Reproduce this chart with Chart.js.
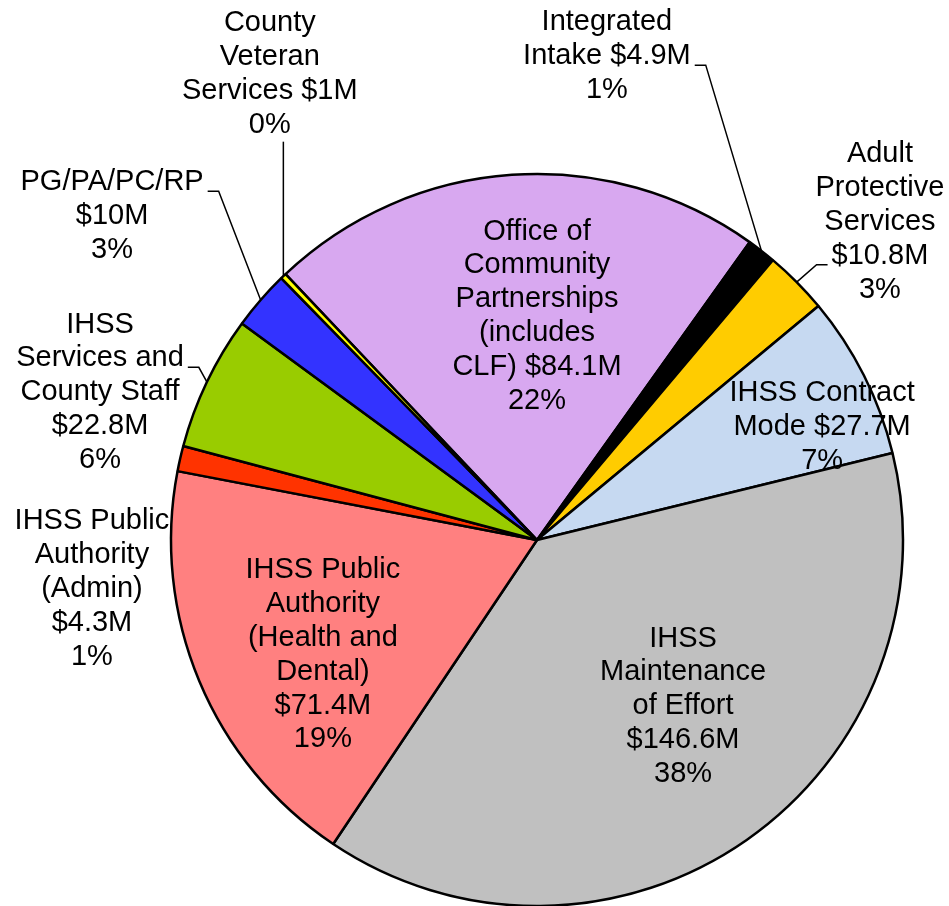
<!DOCTYPE html>
<html>
<head>
<meta charset="utf-8">
<title>Budget pie</title>
<script src="https://cdn.jsdelivr.net/npm/chart.js@4.4.1/dist/chart.umd.min.js"></script>
<style>
  html, body { margin: 0; padding: 0; background: #fff; overflow: hidden; }
  #wrap { width: 949px; height: 906px; position: relative; }
</style>
</head>
<body>
<div id="wrap"><canvas id="stage"></canvas></div>
<script>
// slices, clockwise from the top (amounts in $M)
var categories = [
  'Office of Community Partnerships (includes CLF)',
  'Integrated Intake',
  'Adult Protective Services',
  'IHSS Contract Mode',
  'IHSS Maintenance of Effort',
  'IHSS Public Authority (Health and Dental)',
  'IHSS Public Authority (Admin)',
  'IHSS Services and County Staff',
  'PG/PA/PC/RP',
  'County Veteran Services'
];
var amounts = [84.1, 4.9, 10.8, 27.7, 146.6, 71.4, 4.3, 22.8, 10, 1];
var colors = ['#D8A8F0', '#000000', '#FFCC00', '#C6D9F1', '#C0C0C0',
              '#FF8080', '#FF3300', '#99CC00', '#3333FF', '#FFFF00'];

// where each label sits: offset from the pie centre in radii, wrap width in px,
// and the leader line (side of the label it leaves from, and which text line)
var labelLayout = [
  { fx: 0.0,    fy: -0.612, wrap: 175 },
  { fx: 0.191,  fy: -1.322, wrap: 180, leader: 'right', line: 1 },
  { fx: 0.937,  fy: -0.869, wrap: 140, leader: 'left', line: 3 },
  { fx: 0.779,  fy: -0.309, wrap: 187 },
  { fx: 0.399,  fy: 0.454,  wrap: 175 },
  { fx: -0.585, fy: 0.314,  wrap: 165 },
  { fx: -1.216, fy: 0.134,  wrap: 165 },
  { fx: -1.194, fy: -0.404, wrap: 175, leader: 'right', line: 1 },
  { fx: -1.161, fy: -0.885, wrap: 200, leader: 'right', line: 0 },
  { fx: -0.730, fy: -1.273, wrap: 185, leader: 'bottom' }
];

var FONT = '29px "Liberation Sans", Arial, sans-serif';
var LINE_H = 33.8;

function wrapText(ctx, text, maxW) {
  var words = text.split(' ');
  var lines = [];
  var cur = '';
  words.forEach(function (w) {
    var t = cur ? cur + ' ' + w : w;
    if (cur && ctx.measureText(t).width > maxW) {
      lines.push(cur);
      cur = w;
    } else {
      cur = t;
    }
  });
  if (cur) lines.push(cur);
  return lines;
}

var pieLabels = {
  id: 'pieLabels',
  afterDatasetsDraw: function (chart) {
    var ctx = chart.ctx;
    var meta = chart.getDatasetMeta(0);
    var total = amounts.reduce(function (a, b) { return a + b; }, 0);
    ctx.save();
    ctx.font = FONT;
    ctx.fillStyle = '#000';
    ctx.strokeStyle = '#000';
    ctx.lineWidth = 1.5;
    ctx.textAlign = 'center';
    ctx.textBaseline = 'middle';
    meta.data.forEach(function (arc, i) {
      var lay = labelLayout[i];
      var r = arc.outerRadius;
      var cx = arc.x + lay.fx * r;
      var cy = arc.y + lay.fy * r;
      var lines = wrapText(ctx, categories[i] + ' $' + amounts[i] + 'M', lay.wrap);
      lines.push(Math.round(amounts[i] / total * 100) + '%');
      var top = cy - lines.length * LINE_H / 2;
      lines.forEach(function (s, k) {
        ctx.fillText(s, cx, top + LINE_H * (k + 0.5));
      });

      if (!lay.leader) return;
      var mid = (arc.startAngle + arc.endAngle) / 2;
      var px = arc.x + Math.cos(mid) * r;
      var py = arc.y + Math.sin(mid) * r;
      ctx.beginPath();
      if (lay.leader === 'bottom') {
        ctx.moveTo(px, top + lines.length * LINE_H);
        ctx.lineTo(px, py);
      } else {
        var dir = lay.leader === 'right' ? 1 : -1;
        var w = ctx.measureText(lines[lay.line]).width;
        var ly = top + LINE_H * (lay.line + 0.5) + 9;
        var x0 = cx + dir * (w / 2 + 4);
        ctx.moveTo(x0, ly);
        ctx.lineTo(x0 + dir * 11, ly);
        ctx.lineTo(px, py);
      }
      ctx.stroke();
    });
    ctx.restore();
  }
};

var canvas = document.getElementById('stage');
var chart = new Chart(canvas, {
  type: 'pie',
  data: {
    labels: categories,
    datasets: [{
      data: amounts,
      backgroundColor: colors,
      borderColor: '#000',
      borderWidth: 2.5
    }]
  },
  options: {
    responsive: true,
    maintainAspectRatio: false,
    animation: false,
    rotation: -43.4,
    radius: 366,
    layout: { padding: { left: 125, right: 0, top: 174, bottom: 0 } },
    plugins: {
      legend: { display: false },
      tooltip: { enabled: false }
    }
  },
  plugins: [pieLabels]
});
</script>
</body>
</html>
